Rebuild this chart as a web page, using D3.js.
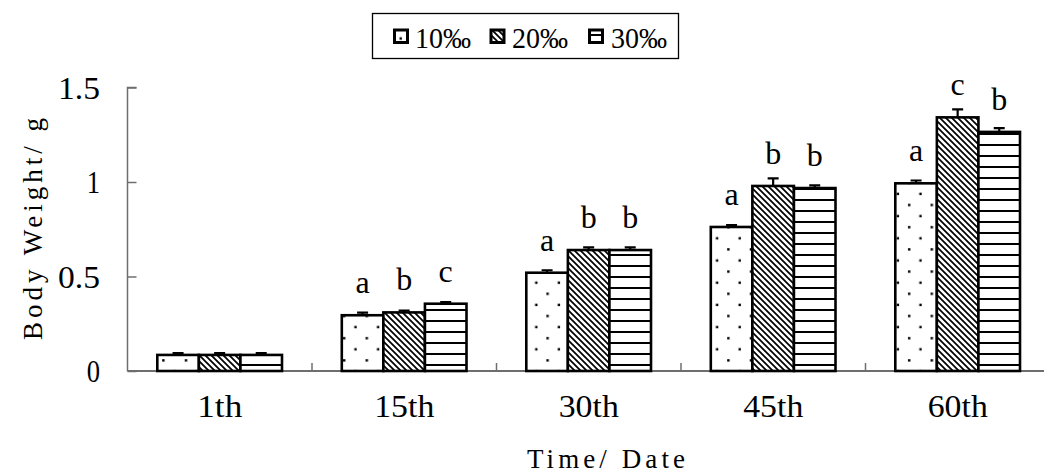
<!DOCTYPE html>
<html>
<head>
<meta charset="utf-8">
<script src="https://cdn.jsdelivr.net/npm/d3@7"></script>
<style>
  html, body { margin: 0; padding: 0; background: #fff; }
  svg { display: block; }
  text { font-family: "Liberation Serif", "Times New Roman", serif; fill: #000; }
</style>
</head>
<body>
<div id="chart"></div>
<script>
const categories = ["1th", "15th", "30th", "45th", "60th"];
const seriesNames = ["10‰", "20‰", "30‰"];
const values10 = [0.085, 0.295, 0.52, 0.762, 0.993];
const values20 = [0.085, 0.31, 0.64, 0.979, 1.342];
const values30 = [0.085, 0.356, 0.64, 0.968, 1.265];
const errors10 = [0.01, 0.014, 0.013, 0.01, 0.015];
const errors20 = [0.01, 0.01, 0.014, 0.04, 0.042];
const errors30 = [0.01, 0.009, 0.014, 0.014, 0.02];
const letters10 = ["", "a", "a", "a", "a"];
const letters20 = ["", "b", "b", "b", "c"];
const letters30 = ["", "c", "b", "b", "b"];
const yTicks = [0, 0.5, 1, 1.5];
const yTickLabels = ["0", "0.5", "1", "1.5"];
const yTitle = "Body Weight/ g";
const xTitle = "Time/ Date";

const W = 1044, H = 473;
const svg = d3.select("#chart").append("svg").attr("width", W).attr("height", H);
const defs = svg.append("defs");

// Patterns
const pDots = defs.append("pattern").attr("id", "pDots").attr("patternUnits", "userSpaceOnUse")
  .attr("width", 22.6).attr("height", 22.2);
pDots.append("rect").attr("width", 22.6).attr("height", 22.2).attr("fill", "#fff");
pDots.append("rect").attr("x", 4).attr("y", 4).attr("width", 2.4).attr("height", 2.4).attr("fill", "#000");
pDots.append("rect").attr("x", 15.3).attr("y", 15.1).attr("width", 2.4).attr("height", 2.4).attr("fill", "#000");

const pDiag = defs.append("pattern").attr("id", "pDiag").attr("patternUnits", "userSpaceOnUse")
  .attr("width", 6).attr("height", 6);
pDiag.append("rect").attr("width", 6).attr("height", 6).attr("fill", "#fff");
pDiag.append("path").attr("d", "M-1,-1 L7,7 M-1,5 L1,7 M5,-1 L7,1")
  .attr("stroke", "#000").attr("stroke-width", 1.7);

const pHor = defs.append("pattern").attr("id", "pHor").attr("patternUnits", "userSpaceOnUse")
  .attr("width", 10).attr("height", 11);
pHor.append("rect").attr("width", 10).attr("height", 11).attr("fill", "#fff");
pHor.append("rect").attr("x", 0).attr("y", 1).attr("width", 10).attr("height", 2).attr("fill", "#000");

const fills = ["url(#pDots)", "url(#pDiag)", "url(#pHor)"];

// Scales
const y = d3.scaleLinear().domain([0, 1.5]).range([371, 87.5]);
const x = d3.scaleBand().domain(categories).range([127.5, 1050]).padding(0);
const xs = d3.scaleBand().domain(seriesNames).range([29.8, x.bandwidth() - 30]).padding(0);

const series = [
  { name: seriesNames[0], vals: values10, errs: errors10, letters: letters10, fill: fills[0] },
  { name: seriesNames[1], vals: values20, errs: errors20, letters: letters20, fill: fills[1] },
  { name: seriesNames[2], vals: values30, errs: errors30, letters: letters30, fill: fills[2] }
];

// Axes
const axisColor = "#6e6e6e";
const yAxis = d3.axisRight(y).tickValues(yTicks).tickSize(9).tickFormat("");
const gy = svg.append("g").attr("transform", `translate(${x.range()[0]},0)`).call(yAxis);
gy.select(".domain").attr("stroke", axisColor).attr("stroke-width", 1.5).attr("d", `M9,${y(1.5)}H0V${y(0)}`);
gy.selectAll(".tick line").attr("stroke", axisColor).attr("stroke-width", 1.5);

svg.append("line").attr("x1", x.range()[0]).attr("x2", W).attr("y1", y(0)).attr("y2", y(0))
  .attr("stroke", axisColor).attr("stroke-width", 2);
svg.append("g").selectAll("line").data(categories.slice(1)).join("line")
  .attr("x1", d => x(d)).attr("x2", d => x(d))
  .attr("y1", y(0)).attr("y2", y(0) - 8)
  .attr("stroke", axisColor).attr("stroke-width", 1.5);

// y tick labels
svg.append("g").selectAll("text").data(yTicks).join("text")
  .attr("x", 100).attr("y", d => y(d) + 11)
  .attr("text-anchor", "end").attr("font-size", 32)
  .attr("textLength", (d, i) => yTickLabels[i].length * 14.3 - 1)
  .attr("lengthAdjust", "spacingAndGlyphs")
  .text((d, i) => yTickLabels[i]);

// x tick labels
svg.append("g").selectAll("text").data(categories).join("text")
  .attr("x", d => x(d) + x.bandwidth() / 2).attr("y", 417)
  .attr("text-anchor", "middle").attr("font-size", 32)
  .attr("textLength", d => d.length * 15)
  .attr("lengthAdjust", "spacingAndGlyphs")
  .text(d => d);

// Bars
series.forEach(s => {
  const g = svg.append("g");
  const data = categories.map((c, i) => ({ c, v: s.vals[i], e: s.errs[i], l: s.letters[i] }));
  g.selectAll("rect").data(data).join("rect")
    .attr("x", d => x(d.c) + xs(s.name))
    .attr("y", d => y(d.v))
    .attr("width", xs.bandwidth())
    .attr("height", d => y(0) - y(d.v))
    .attr("fill", s.fill)
    .attr("stroke", "#000").attr("stroke-width", 2.6);
  g.selectAll("path.err").data(data).join("path").attr("class", "err")
    .attr("d", d => {
      const cx = x(d.c) + xs(s.name) + xs.bandwidth() / 2;
      const yt = y(d.v + d.e);
      return `M${cx},${y(d.v)}V${yt}M${cx - 5.5},${yt}H${cx + 5.5}`;
    })
    .attr("stroke", "#000").attr("stroke-width", 2.2).attr("fill", "none");
  g.selectAll("text").data(data.filter(d => d.l)).join("text")
    .attr("x", d => x(d.c) + xs(s.name) + xs.bandwidth() / 2)
    .attr("y", d => y(d.v) - 22)
    .attr("text-anchor", "middle").attr("font-size", 32)
    .text(d => d.l);
});

// Axis titles
svg.append("text")
  .attr("transform", "translate(42,229) rotate(-90)")
  .attr("text-anchor", "middle").attr("font-size", 27)
  .attr("textLength", 222).attr("lengthAdjust", "spacing")
  .text(yTitle);
svg.append("text")
  .attr("x", 606).attr("y", 468)
  .attr("text-anchor", "middle").attr("font-size", 27)
  .attr("textLength", 158).attr("lengthAdjust", "spacing")
  .text(xTitle);

// Legend
const lg = svg.append("g");
lg.append("rect").attr("x", 372.5).attr("y", 13.5).attr("width", 306).attr("height", 45)
  .attr("fill", "#fff").attr("stroke", "#000").attr("stroke-width", 1.3);
const legIconX = [394.5, 491, 589.5];
const legTextX = [415, 512, 611];
series.forEach((s, i) => {
  lg.append("rect").attr("x", legIconX[i]).attr("y", 30).attr("width", 13).attr("height", 12.5)
    .attr("fill", s.fill).attr("stroke", "#000").attr("stroke-width", 3);
  lg.append("text").attr("x", legTextX[i]).attr("y", 47.5).attr("font-size", 29)
    .attr("textLength", 56).attr("lengthAdjust", "spacingAndGlyphs")
    .text(s.name);
});
</script>
</body>
</html>
